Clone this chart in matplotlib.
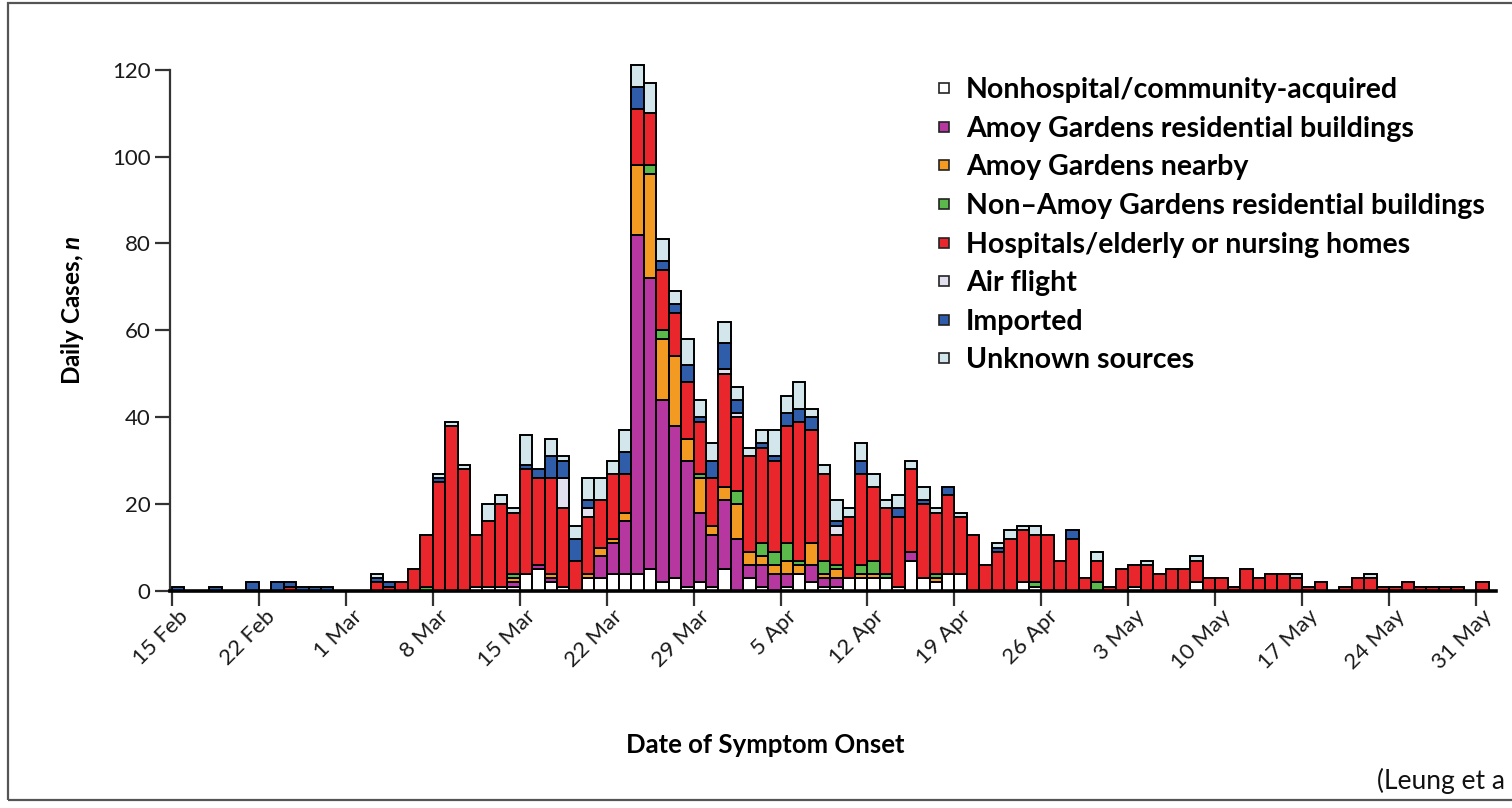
import matplotlib
matplotlib.use("Agg")
import matplotlib.pyplot as plt
import matplotlib.transforms as mtransforms
import numpy as np
from matplotlib.lines import Line2D
from matplotlib.patches import Rectangle

plt.rcParams["font.family"] = ["Lato", "DejaVu Sans"]
plt.rcParams["mathtext.fontset"] = "custom"
plt.rcParams["mathtext.it"] = "Lato:bold:italic"

# one value per day, 15 Feb (index 0) to 31 May 2003 (index 105), 7 per row
nonhospital = [
    0, 0, 0, 0, 0, 0, 0,  0, 0, 0, 0, 0, 0, 0,  0, 0, 0, 0, 0, 0, 0,
    0, 0, 0, 1, 1, 1, 1,  4, 5, 2, 1, 0, 3, 3,  4, 4, 4, 5, 2, 3, 1,
    2, 1, 5, 0, 3, 1, 0,  1, 4, 2, 1, 1, 3, 3,  3, 3, 1, 7, 3, 2, 4,
    4, 0, 0, 0, 0, 2, 1,  0, 0, 0, 0, 0, 0, 0,  1, 0, 0, 0, 0, 2, 0,
    0, 0, 0, 0, 0, 0, 0,  0, 0, 0, 0, 0, 0, 0,  0, 0, 0, 0, 0, 0, 0,
    0]
amoy_residential = [
    0, 0, 0, 0, 0, 0, 0,  0, 0, 0, 0, 0, 0, 0,  0, 0, 0, 0, 0, 0, 0,
    0, 0, 0, 0, 0, 0, 1,  0, 1, 1, 0, 0, 0, 5,  7, 12, 78, 67, 42, 35, 29,
    16, 12, 16, 12, 3, 5, 4,  3, 0, 4, 2, 2, 0, 0,  0, 0, 0, 2, 0, 0, 0,
    0, 0, 0, 0, 0, 0, 0,  0, 0, 0, 0, 0, 0, 0,  0, 0, 0, 0, 0, 0, 0,
    0, 0, 0, 0, 0, 0, 0,  0, 0, 0, 0, 0, 0, 0,  0, 0, 0, 0, 0, 0, 0,
    0]
amoy_nearby = [
    0, 0, 0, 0, 0, 0, 0,  0, 0, 0, 0, 0, 0, 0,  0, 0, 0, 0, 0, 0, 0,
    0, 0, 0, 0, 0, 0, 1,  0, 0, 1, 0, 0, 1, 2,  1, 2, 16, 24, 14, 16, 5,
    8, 2, 3, 8, 3, 2, 2,  3, 2, 5, 1, 2, 0, 1,  1, 0, 0, 0, 0, 1, 0,
    0, 0, 0, 0, 0, 0, 0,  0, 0, 0, 0, 0, 0, 0,  0, 0, 0, 0, 0, 0, 0,
    0, 0, 0, 0, 0, 0, 0,  0, 0, 0, 0, 0, 0, 0,  0, 0, 0, 0, 0, 0, 0,
    0]
non_amoy_residential = [
    0, 0, 0, 0, 0, 0, 0,  0, 0, 0, 0, 0, 0, 0,  0, 0, 0, 0, 0, 0, 1,
    0, 0, 0, 0, 0, 0, 1,  0, 0, 0, 0, 0, 0, 0,  0, 0, 0, 2, 2, 0, 0,
    1, 0, 0, 3, 0, 3, 3,  4, 1, 0, 3, 1, 0, 2,  3, 1, 0, 0, 0, 1, 0,
    0, 0, 0, 0, 0, 0, 1,  0, 0, 0, 0, 2, 0, 0,  0, 0, 0, 0, 0, 0, 0,
    0, 0, 0, 0, 0, 0, 0,  0, 0, 0, 0, 0, 0, 0,  0, 0, 0, 0, 0, 0, 0,
    0]
hospitals = [
    0, 0, 0, 0, 0, 0, 0,  0, 0, 1, 0, 0, 0, 0,  0, 0, 2, 1, 2, 5, 12,
    25, 38, 28, 12, 15, 19, 14,  24, 20, 22, 18, 7, 13, 11,  15, 9, 13, 12, 14, 10, 13,
    12, 11, 26, 17, 22, 22, 21,  27, 32, 26, 20, 7, 14, 21,  17, 15, 16, 19, 17, 14, 18,
    13, 13, 6, 9, 12, 12, 11,  13, 7, 12, 3, 5, 1, 5,  5, 6, 4, 5, 5, 5, 3,
    3, 1, 5, 3, 4, 4, 3,  1, 2, 0, 1, 3, 3, 1,  1, 2, 1, 1, 1, 1, 0,
    2]
air_flight = [
    0, 0, 0, 0, 0, 0, 0,  0, 0, 0, 0, 0, 0, 0,  0, 0, 0, 0, 0, 0, 0,
    0, 0, 0, 0, 0, 0, 0,  0, 0, 0, 7, 0, 2, 0,  0, 0, 0, 0, 0, 0, 0,
    0, 0, 1, 1, 0, 0, 0,  0, 0, 0, 0, 2, 0, 0,  0, 0, 0, 0, 0, 0, 0,
    0, 0, 0, 0, 0, 0, 0,  0, 0, 0, 0, 0, 0, 0,  0, 0, 0, 0, 0, 0, 0,
    0, 0, 0, 0, 0, 0, 0,  0, 0, 0, 0, 0, 0, 0,  0, 0, 0, 0, 0, 0, 0,
    0]
imported = [
    1, 0, 0, 1, 0, 0, 2,  0, 2, 1, 1, 1, 1, 0,  0, 0, 1, 1, 0, 0, 0,
    1, 0, 0, 0, 0, 0, 0,  1, 2, 5, 4, 5, 2, 0,  0, 5, 5, 0, 2, 2, 4,
    1, 4, 6, 3, 0, 1, 1,  3, 3, 3, 0, 1, 0, 3,  0, 0, 2, 0, 1, 0, 2,
    0, 0, 0, 1, 0, 0, 0,  0, 0, 2, 0, 0, 0, 0,  0, 0, 0, 0, 0, 0, 0,
    0, 0, 0, 0, 0, 0, 0,  0, 0, 0, 0, 0, 0, 0,  0, 0, 0, 0, 0, 0, 0,
    0]
unknown = [
    0, 0, 0, 0, 0, 0, 0,  0, 0, 0, 0, 0, 0, 0,  0, 0, 1, 0, 0, 0, 0,
    1, 1, 1, 0, 4, 2, 1,  7, 0, 4, 1, 3, 5, 5,  3, 5, 5, 7, 5, 3, 6,
    4, 4, 5, 3, 2, 3, 6,  4, 6, 2, 2, 5, 2, 4,  3, 2, 3, 2, 3, 1, 0,
    1, 0, 0, 1, 2, 1, 2,  0, 0, 0, 0, 2, 0, 0,  0, 1, 0, 0, 0, 1, 0,
    0, 0, 0, 0, 0, 0, 1,  0, 0, 0, 0, 0, 1, 0,  0, 0, 0, 0, 0, 0, 0,
    0]

labels = ["Nonhospital/community-acquired", "Amoy Gardens residential buildings",
          "Amoy Gardens nearby", "Non\u2013Amoy Gardens residential buildings",
          "Hospitals/elderly or nursing homes", "Air flight", "Imported",
          "Unknown sources"]
colors = ["#ffffff", "#b5379f", "#f29a22", "#5bb84a", "#e8262b", "#e2dfee",
          "#2f5daa", "#d3e6ec"]
tick_days = [0, 7, 14, 21, 28, 35, 42, 49, 56, 63, 70, 77, 84, 91, 98, 105]
tick_labels = ["15 Feb", "22 Feb", "1 Mar", "8 Mar", "15 Mar", "22 Mar", "29 Mar",
               "5 Apr", "12 Apr", "19 Apr", "26 Apr", "3 May", "10 May", "17 May",
               "24 May", "31 May"]

series = [nonhospital, amoy_residential, amoy_nearby, non_amoy_residential,
          hospitals, air_flight, imported, unknown]

W, H = 1512, 808
fig = plt.figure(figsize=(W / 100, H / 100), dpi=100)
ax = fig.add_axes([170 / W, (H - 591) / H, (1496 - 170) / W, (591 - 61) / H])

x = np.arange(len(hospitals))
bottom = np.zeros(len(x))
for vals, col in zip(series, colors):
    v = np.array(vals, dtype=float)
    m = v > 0
    ax.bar(x[m], v[m], width=1, bottom=bottom[m], align="edge", color=col,
           edgecolor="black", linewidth=1.4, clip_on=False, zorder=2)
    bottom += v

ax.set_xlim(-0.15, 106.6)
ax.set_ylim(0, 122)
ax.spines["top"].set_visible(False)
ax.spines["right"].set_visible(False)
ax.spines["left"].set_bounds(0, 120)
ax.spines["left"].set_linewidth(1.6)
ax.spines["left"].set_color("#333333")
ax.spines["bottom"].set_linewidth(2.6)
ax.spines["bottom"].set_zorder(3)

ax.set_yticks([0, 20, 40, 60, 80, 100, 120])
ax.set_xticks(tick_days)
ax.set_xticklabels(tick_labels, rotation=45, ha="right", va="center",
                   rotation_mode="anchor")
ax.tick_params(axis="both", length=11, width=1.6, color="#333333",
               labelsize=16, labelcolor="#1a1a1a")
ax.tick_params(axis="x", pad=5)
ax.tick_params(axis="y", pad=3)
shift = mtransforms.ScaledTranslation(13 / 100, 0, fig.dpi_scale_trans)
for t in ax.get_xticklabels():
    t.set_transform(t.get_transform() + shift)

ax.set_ylabel("Daily Cases, $n$", fontsize=17.5, fontweight="bold")
ax.yaxis.set_label_coords((86 - 170) / 1326, 0.53)
ax.set_xlabel("Date of Symptom Onset", fontsize=18.5, fontweight="bold")
ax.xaxis.set_label_coords((765 - 170) / 1326, (591 - 733) / 530)

handles = [Line2D([], [], marker="s", linestyle="none", markersize=7,
                  markerfacecolor=c, markeredgecolor="#222222", markeredgewidth=1.2)
           for c in colors]
leg = ax.legend(handles, labels, loc="upper left", bbox_to_anchor=(923 / W, 1 - 66 / H),
                bbox_transform=fig.transFigure, frameon=False, handlelength=0.7,
                handletextpad=0.4, labelspacing=0.44, borderaxespad=0,
                prop={"family": "Lato", "weight": "bold", "size": 20.5})

fig.patches.append(Rectangle((8 / W, 8 / H), 1.2, 1 - 11 / H, transform=fig.transFigure,
                             fill=False, edgecolor="#555555", linewidth=1.6))
fig.text(1377 / W, 1 - 789 / H, "(Leung et a", fontsize=19,
         family="Lato", color="#111111", va="baseline", ha="left")

fig.savefig("out.png", dpi=100, facecolor="white")
